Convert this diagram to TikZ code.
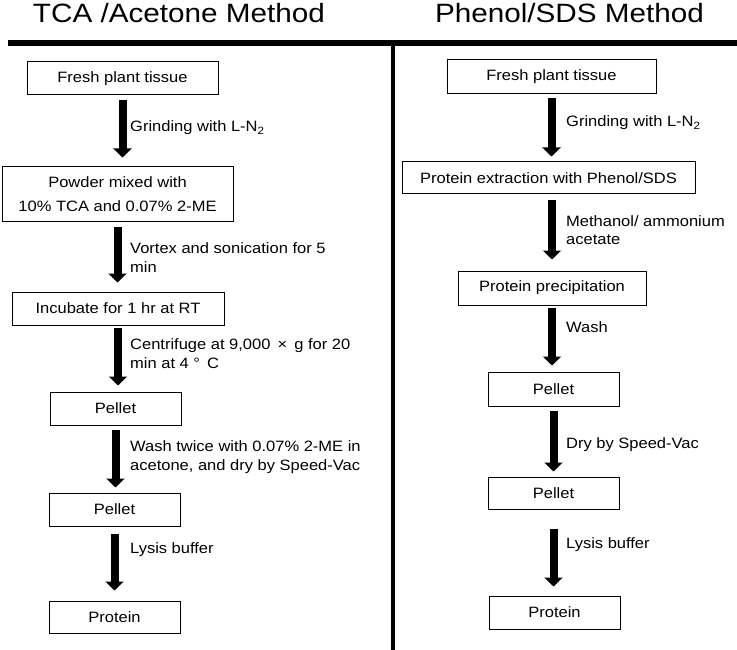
\documentclass[tikz,border=0pt]{standalone}
\usepackage{fontspec}
\setmainfont{Liberation Sans}[FakeStretch=1.1]
\newfontfamily\headfont{Liberation Sans}[FakeStretch=1.12]
\usetikzlibrary{arrows.meta,positioning}

\begin{document}
\begin{tikzpicture}[x=1pt,y=-1pt,
	every node/.style={font=\fontsize{15}{19}\selectfont},
	stepbox/.style={draw,line width=1pt,inner sep=0pt,align=center,minimum width=131pt,minimum height=33pt},
	steplabel/.style={anchor=west,inner sep=0pt,align=left},
	flowarrow/.style={line width=8pt,-{Triangle[width=18pt,length=9pt]},shorten <=4pt,shorten >=7pt},
	heading/.style={anchor=base,font=\headfont\fontsize{26.5}{30}\selectfont}]
	\useasboundingbox (0,0) rectangle (737,650);

	% headings and dividers
	\node (tcahead) at (179,23) [heading] {TCA /Acetone Method};
	\node (phenolhead) at (569.5,23) [heading] {Phenol/SDS Method};
	\coordinate (ruleleft) at (8,43);
	\coordinate (ruleright) at (737,43);
	\coordinate (splittop) at (393,43);
	\coordinate (splitbottom) at (393,650);
	\draw[line width=5.5pt] (ruleleft) -- (ruleright);
	\draw[line width=3.5pt] (splittop) -- (splitbottom);

	% TCA/acetone column
	\node (fresha) at (122.5,78.5) [stepbox,minimum width=191pt] {Fresh plant tissue};
	\node (powdera) at (117.5,194.5) [stepbox,minimum width=231pt,minimum height=55pt,font=\fontsize{15}{24}\selectfont] {Powder mixed with\\10\% TCA and 0.07\% 2-ME};
	\node (incuba) at (118,308.5) [stepbox,minimum width=212pt] {Incubate for 1 hr at RT};
	\node (pelleta) at (115.5,408.5) [stepbox] {Pellet};
	\node (pelletb) at (114.5,509.5) [stepbox] {Pellet};
	\node (proteina) at (114.5,617) [stepbox,minimum height=32pt] {Protein};

	\node (grinda) at (130,128) [steplabel] {Grinding with L-N\textsubscript{2}};
	\node (vortexa) at (130,258) [steplabel] {Vortex and sonication for 5\\min};
	\node (spina) at (130,354) [steplabel] {Centrifuge at 9,000 \,×\, g for 20\\min at 4 °\, C};
	\node (washa) at (130,457) [steplabel] {Wash twice with 0.07\% 2-ME in\\acetone, and dry by Speed-Vac};
	\node (lysisa) at (130,550) [steplabel] {Lysis buffer};

	\draw[flowarrow,shorten <=5pt,shorten >=9pt] (fresha.south) -- (fresha.south |- powdera.north);
	\draw[flowarrow,shorten <=5pt,shorten >=9pt] (powdera.south) -- (powdera.south |- incuba.north);
	\draw[flowarrow,shorten <=2pt,shorten >=6pt] (incuba.south) -- (incuba.south |- pelleta.north);
	\draw[flowarrow,shorten >=5pt] (pelleta.south) -- (pelleta.south |- pelletb.north);
	\draw[flowarrow,shorten <=7pt,shorten >=10pt] (pelletb.south) -- (pelletb.south |- proteina.north);

	% phenol/SDS column
	\node (freshb) at (551.5,77) [stepbox,minimum width=209pt,minimum height=34pt] {Fresh plant tissue};
	\node (extractb) at (548.5,178) [stepbox,minimum width=293pt,minimum height=32pt] {Protein extraction with Phenol/SDS};
	\node (precipb) at (552,288) [stepbox,minimum width=188pt,minimum height=34pt] {Protein precipitation};
	\node (pelletc) at (553.5,389) [stepbox,minimum height=34pt] {Pellet};
	\node (pelletd) at (553.5,493) [stepbox,minimum height=32pt] {Pellet};
	\node (proteinb) at (554.5,612.5) [stepbox] {Protein};

	\node (grindb) at (566,123) [steplabel] {Grinding with L-N\textsubscript{2}};
	\node (methb) at (566,230) [steplabel,font=\fontsize{15}{18}\selectfont] {Methanol/ ammonium\\acetate};
	\node (washb) at (566,327) [steplabel] {Wash};
	\node (dryb) at (566,445) [steplabel] {Dry by Speed-Vac};
	\node (lysisb) at (566,545) [steplabel] {Lysis buffer};

	\draw[flowarrow,shorten >=5pt] (freshb.south) -- (freshb.south |- extractb.north);
	\draw[flowarrow,shorten <=6pt,shorten >=11pt] (precipb.north |- extractb.south) -- (precipb.north);
	\draw[flowarrow,shorten <=2pt,shorten >=6pt] (precipb.south) -- (precipb.south |- pelletc.north);
	\draw[flowarrow,shorten >=5pt] (pelletc.south) -- (pelletc.south |- pelletd.north);
	\draw[flowarrow,shorten <=19pt,shorten >=9pt] (pelletd.south) -- (pelletd.south |- proteinb.north);
\end{tikzpicture}
\end{document}
